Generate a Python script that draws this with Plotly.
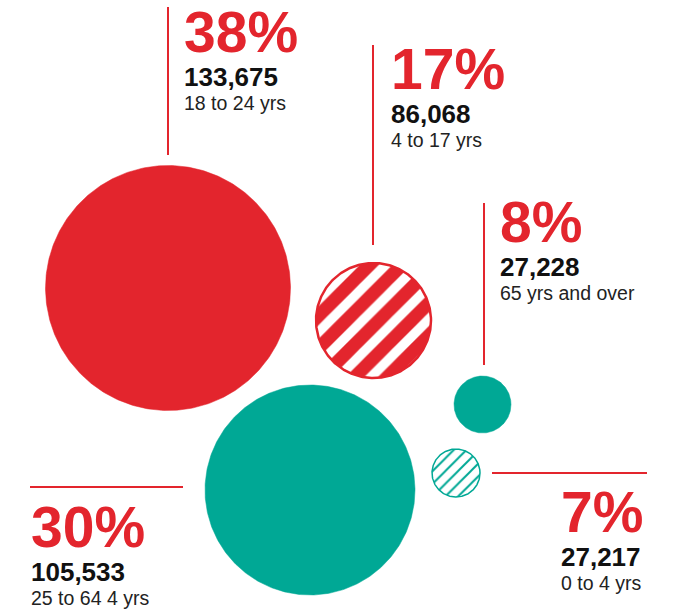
import numpy as np
import plotly.graph_objects as go

# ---- data -------------------------------------------------------------
groups = ["18 to 24 yrs", "4 to 17 yrs", "65 yrs and over", "25 to 64 4 yrs", "0 to 4 yrs"]
counts = [133675, 86068, 27228, 105533, 27217]
shares = [38, 17, 8, 30, 7]

# ---- layout (pixel space, y grows downward) ---------------------------
W, H = 683, 609
RED = "#E3252D"
TEAL = "#00A895"

bubble_cx = [168, 373.5, 482.5, 310, 456]
bubble_cy = [288, 320.5, 404.5, 490, 473]
bubble_d = [245, 115, 57, 210, 48]
bubble_color = [RED, RED, TEAL, TEAL, TEAL]
bubble_hatched = [False, True, False, False, True]

# text block anchor: left edge, vertical middle of the percentage line
text_x = [183, 390, 499, 30, 560]
text_y = [32, 69, 221.5, 527, 512]
NUM_DY, LAB_DY = 45, 71

# leader lines (x0, y0, x1, y1)
leaders = [
    (168, 7, 168, 155),
    (373, 45, 373, 245),
    (484, 203, 484, 365),
    (30, 487, 183, 487),
    (492, 473, 647, 473),
]

FONT = "Liberation Sans, Arial, Helvetica, sans-serif"

fig = go.Figure()

theta = np.linspace(0, 2 * np.pi, 361)
for i in range(len(groups)):
    r = bubble_d[i] / 2
    xs = bubble_cx[i] + r * np.cos(theta)
    ys = bubble_cy[i] + r * np.sin(theta)
    col = bubble_color[i]
    if not bubble_hatched[i]:
        fig.add_trace(go.Scatter(
            x=xs, y=ys, mode="lines", fill="toself", fillcolor=col,
            line=dict(color=col, width=0.5), hoverinfo="skip", showlegend=False,
        ))
    elif col == RED:
        fig.add_trace(go.Scatter(
            x=xs, y=ys, mode="lines", fill="toself", fillcolor=RED,
            fillpattern=dict(shape="/", bgcolor=RED, fgcolor="white", fgopacity=1,
                             fillmode="replace", size=23, solidity=0.42),
            line=dict(color=RED, width=2.5), hoverinfo="skip", showlegend=False,
        ))
    else:
        fig.add_trace(go.Scatter(
            x=xs, y=ys, mode="lines", fill="toself", fillcolor="white",
            fillpattern=dict(shape="/", bgcolor="white", fgcolor=col, fgopacity=1,
                             fillmode="replace", size=9, solidity=0.22),
            line=dict(color=col, width=1.5), hoverinfo="skip", showlegend=False,
        ))

for x0, y0, x1, y1 in leaders:
    fig.add_shape(type="line", xref="x", yref="y", x0=x0, y0=y0, x1=x1, y1=y1,
                  line=dict(color=RED, width=2))

for i in range(len(groups)):
    common = dict(xref="x", yref="y", xanchor="left", yanchor="middle",
                  showarrow=False, borderpad=0, x=text_x[i])
    fig.add_annotation(text=f"{shares[i]}%", y=text_y[i],
                       font=dict(family=FONT, size=57, color=RED, weight=700), **common)
    fig.add_annotation(text=f"{counts[i]:,}", y=text_y[i] + NUM_DY,
                       font=dict(family=FONT, size=26, color="#111111", weight=700), **common)
    fig.add_annotation(text=groups[i], y=text_y[i] + LAB_DY,
                       font=dict(family=FONT, size=19.5, color="#222222"), **common)

fig.update_layout(
    width=W, height=H, autosize=False,
    margin=dict(l=0, r=0, t=0, b=0, pad=0),
    paper_bgcolor="white", plot_bgcolor="white",
    xaxis=dict(range=[0, W], visible=False, fixedrange=True),
    yaxis=dict(range=[H, 0], visible=False, fixedrange=True),
    showlegend=False,
)

fig.write_html("out.html", config={"displayModeBar": False})
